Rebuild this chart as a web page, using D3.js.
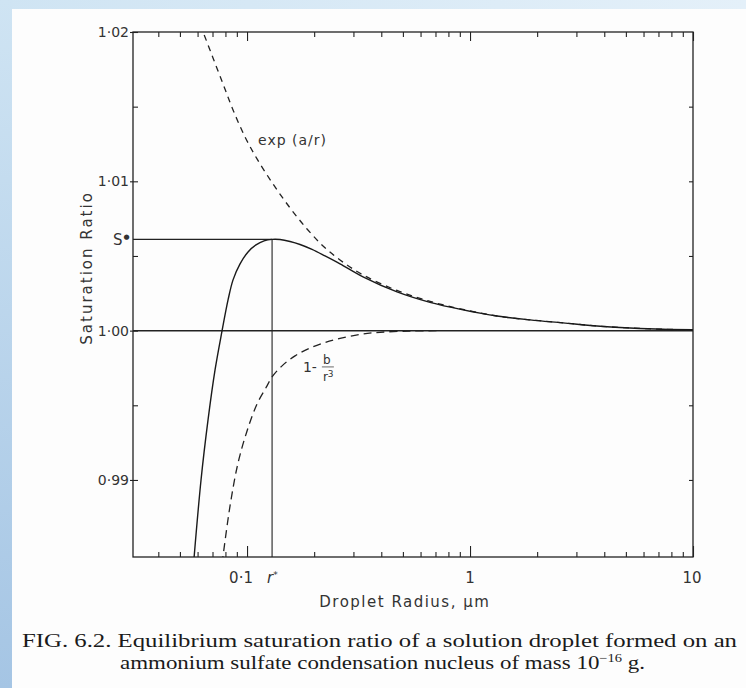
<!DOCTYPE html>
<html>
<head>
<meta charset="utf-8">
<script src="https://cdn.jsdelivr.net/npm/d3@7"></script>
<style>
body { margin: 0; background: #fff; }
svg { display: block; }
.lbl { font-family: "DejaVu Sans", sans-serif; fill: #333; }
.cap { font-family: "Liberation Serif", serif; fill: #1a1a1a; }
</style>
</head>
<body>
<div id="chart"></div>
<script>
var w = 746,
    h = 688,
    m = [32, 53, 131, 133]; // top right bottom left

var pw = w - m[1] - m[3],
    ph = h - m[0] - m[2];

// Köhler curve (solid)
var solidR = [0.0575, 0.06218, 0.06684, 0.07186, 0.07724, 0.08219, 0.08654, 0.09303, 0.10104, 0.10973, 0.1192, 0.12947,
              0.14062, 0.1559, 0.17286, 0.19564, 0.22376, 0.26122, 0.33131, 0.47063, 0.66163, 0.93023,
              1.3214, 1.8578, 2.6122, 3.711, 5.218, 7.336, 10];
var solidS = [0.9843, 0.99000, 0.99402, 0.99737, 0.99998, 1.00206, 1.00340, 1.00447, 1.00527, 1.00574, 1.00601, 1.00611,
              1.00610, 1.00597, 1.00577, 1.00544, 1.00500, 1.00447, 1.00360, 1.00259, 1.00189, 1.00139,
              1.00098, 1.00072, 1.00052, 1.00031, 1.00018, 1.00009, 1.00006];

// exp(a/r) dashed
var expR = [0.06154, 0.06348, 0.07038, 0.07804, 0.08654, 0.09796, 0.11088, 0.13081, 0.1559, 0.18582, 0.21918, 0.26122,
            0.33131, 0.47063, 0.66163, 0.93023, 1.3214, 1.8578, 2.6122, 3.711, 5.218, 7.336, 10];
var expS = [1.02047, 1.02000, 1.01826, 1.01652, 1.01478, 1.01297, 1.01150, 1.00982, 1.00822, 1.00681, 1.00567, 1.00473,
            1.00373, 1.00269, 1.00196, 1.00142, 1.00098, 1.00072, 1.00052, 1.00031, 1.00018, 1.00009, 1.00006];

// 1 - b/r^3 dashed
var solR = [0.07724, 0.08389, 0.09113, 0.1, 0.11088, 0.12293, 0.12947, 0.14355, 0.16417, 0.19163, 0.22376, 0.26122,
            0.32122, 0.3948, 0.53816, 0.73357];
var solS = [0.98438, 0.98826, 0.99114, 0.99328, 0.99509, 0.99630, 0.99690, 0.99764, 0.99831, 0.99884, 0.99921, 0.99948,
            0.99975, 0.99989, 0.99997, 1.0];

var rStar = 0.1295, sStar = 1.00611;

var xMajor = [0.1, 1, 10];
var xLabels = ["0·1", "1", "10"];
var yTicks = [0.99, 0.995, 1.00, 1.005, 1.01, 1.015, 1.02];
var yMajor = [0.99, 1.00, 1.01, 1.02];
var yLabels = ["0·99", "1·00", "1·01", "1·02"];

var svg = d3.select("#chart").append("svg:svg")
    .attr("width", w)
    .attr("height", h);

// scanned page edges
var defs = svg.append("defs");
var gl = defs.append("linearGradient").attr("id", "gl").attr("x1", 0).attr("x2", 0).attr("y1", 0).attr("y2", 1);
gl.append("stop").attr("offset", 0).attr("stop-color", "#cfe4f3");
gl.append("stop").attr("offset", 1).attr("stop-color", "#a5c5e4");
var gt = defs.append("linearGradient").attr("id", "gt").attr("x1", 0).attr("x2", 1).attr("y1", 0).attr("y2", 0);
gt.append("stop").attr("offset", 0).attr("stop-color", "#cfe4f3");
gt.append("stop").attr("offset", 1).attr("stop-color", "#e4f0f9");
svg.append("rect").attr("width", w).attr("height", h).attr("fill", "#fdfdfd");
svg.append("rect").attr("width", w).attr("height", 9).attr("fill", "url(#gt)");
svg.append("rect").attr("width", 12).attr("height", h).attr("fill", "url(#gl)");

defs.append("clipPath").attr("id", "clip")
  .append("rect").attr("width", pw).attr("height", ph);

var x = d3.scaleLog().domain([0.0308, 10]).range([0, pw]);
var y = d3.scaleLinear().domain([0.98484, 1.02]).range([ph, 0]);

var vis = svg.append("svg:g")
    .attr("transform", "translate(" + m[3] + "," + m[0] + ")");

var xTicks = x.ticks();
function isMajor(d) { return xMajor.some(function(v) { return Math.abs(v - d) < 1e-9; }); }

// bottom and top axes, ticks inward
var bx = vis.append("g").attr("transform", "translate(0," + ph + ")")
    .call(d3.axisBottom(x).tickValues(xTicks).tickSizeInner(-5).tickSizeOuter(0).tickFormat(""));
bx.selectAll(".tick line").attr("y2", function(d) { return isMajor(d) ? -11 : -5; });
var tx = vis.append("g")
    .call(d3.axisTop(x).tickValues(xTicks).tickSizeInner(-5).tickSizeOuter(0).tickFormat(""));
tx.selectAll(".tick line").attr("y2", function(d) { return isMajor(d) ? 9 : 5; });

// left and right axes
var ly = vis.append("g")
    .call(d3.axisLeft(y).tickValues(yTicks).tickSizeInner(-5).tickSizeOuter(0).tickFormat(""));
ly.selectAll(".tick line").attr("x1", function(d) { return yMajor.indexOf(d) >= 0 ? -3 : 0; });
vis.append("g").attr("transform", "translate(" + pw + ",0)")
    .call(d3.axisRight(y).tickValues([0.99, 0.995, 1.005, 1.01, 1.015]).tickSizeInner(-4).tickSizeOuter(0).tickFormat(""));

vis.selectAll(".domain").remove();
vis.selectAll(".tick line").attr("stroke", "#222").attr("stroke-width", 1.1);

vis.append("rect")
    .attr("width", pw).attr("height", ph)
    .attr("fill", "none").attr("stroke", "#222").attr("stroke-width", 1.3);

// reference lines
vis.append("line")
    .attr("x1", 0).attr("x2", pw).attr("y1", y(1)).attr("y2", y(1))
    .attr("stroke", "#222").attr("stroke-width", 1.5);
vis.append("line")
    .attr("x1", 0).attr("x2", x(rStar)).attr("y1", y(sStar)).attr("y2", y(sStar))
    .attr("stroke", "#222").attr("stroke-width", 1.3);
vis.append("line")
    .attr("x1", x(rStar)).attr("x2", x(rStar)).attr("y1", y(sStar)).attr("y2", ph)
    .attr("stroke", "#222").attr("stroke-width", 1.1);

var line = d3.line()
    .x(function(d) { return x(d[0]); })
    .y(function(d) { return y(d[1]); })
    .curve(d3.curveCatmullRom.alpha(0.5));

var curves = vis.append("g").attr("clip-path", "url(#clip)");
curves.append("path").datum(d3.zip(expR, expS))
    .attr("d", line).attr("fill", "none").attr("stroke", "#222")
    .attr("stroke-width", 1.3).attr("stroke-dasharray", "6,5");
curves.append("path").datum(d3.zip(solR, solS))
    .attr("d", line).attr("fill", "none").attr("stroke", "#222")
    .attr("stroke-width", 1.3).attr("stroke-dasharray", "8,5");
curves.append("path").datum(d3.zip(solidR, solidS))
    .attr("d", line).attr("fill", "none").attr("stroke", "#1a1a1a")
    .attr("stroke-width", 1.4);

// tick labels
vis.selectAll(".ylab").data(yMajor).enter().append("text")
    .attr("class", "lbl ylab")
    .attr("x", -4).attr("y", function(d) { return y(d); })
    .attr("dy", "0.36em").attr("text-anchor", "end")
    .style("font-size", "14px")
    .text(function(d, i) { return yLabels[i]; });

vis.selectAll(".xlab").data(xMajor).enter().append("text")
    .attr("class", "lbl xlab")
    .attr("x", function(d, i) { return x(d) + (i == 0 ? -6 : (i == 2 ? -1 : 0)); })
    .attr("y", ph + 26).attr("text-anchor", "middle")
    .style("font-size", "15px")
    .text(function(d, i) { return xLabels[i]; });

var rs = vis.append("text").attr("class", "lbl")
    .attr("x", x(rStar) - 5).attr("y", ph + 26)
    .style("font-size", "15px").style("font-style", "italic");
rs.append("tspan").text("r");
rs.append("tspan").attr("dy", -5).style("font-size", "9px").text("*");

var ss = vis.append("text").attr("class", "lbl")
    .attr("x", -20).attr("y", y(sStar) + 6)
    .style("font-size", "15px");
ss.append("tspan").text("S");
ss.append("tspan").attr("dx", 1).attr("dy", -6).style("font-size", "7px").text("●");

// axis titles
vis.append("text").attr("class", "lbl")
    .attr("transform", "translate(-41," + (y(1.0042)) + ") rotate(-90)")
    .attr("text-anchor", "middle")
    .style("font-size", "15px").style("letter-spacing", "2px")
    .text("Saturation Ratio");

vis.append("text").attr("class", "lbl")
    .attr("x", x(0.51)).attr("y", ph + 50)
    .attr("text-anchor", "middle")
    .style("font-size", "15px").style("letter-spacing", "1.5px")
    .text("Droplet Radius, µm");

// curve annotations
vis.append("text").attr("class", "lbl")
    .attr("x", x(0.112)).attr("y", y(1.0124))
    .style("font-size", "14px").style("letter-spacing", "1px")
    .text("exp (a/r)");

var fr = vis.append("g").attr("transform", "translate(" + x(0.178) + "," + y(0.99757) + ")");
fr.append("text").attr("class", "lbl").attr("x", 0).attr("y", 5)
    .style("font-size", "14px").text("1-");
fr.append("text").attr("class", "lbl").attr("x", 24).attr("y", -3)
    .attr("text-anchor", "middle").style("font-size", "12px").text("b");
fr.append("line").attr("x1", 19).attr("x2", 31).attr("y1", 0).attr("y2", 0)
    .attr("stroke", "#444").attr("stroke-width", 0.8);
var r3 = fr.append("text").attr("class", "lbl").attr("x", 20).attr("y", 14)
    .style("font-size", "12px");
r3.append("tspan").text("r");
r3.append("tspan").attr("dy", -4).style("font-size", "9px").text("3");

// caption
svg.append("text").attr("class", "cap")
    .attr("x", 22).attr("y", 647)
    .attr("textLength", 715).attr("lengthAdjust", "spacingAndGlyphs")
    .style("font-size", "19px")
    .text("FIG. 6.2. Equilibrium saturation ratio of a solution droplet formed on an");

var c2 = svg.append("text").attr("class", "cap")
    .attr("x", 120).attr("y", 669)
    .attr("textLength", 525).attr("lengthAdjust", "spacingAndGlyphs")
    .style("font-size", "19px");
c2.append("tspan").text("ammonium sulfate condensation nucleus of mass 10");
c2.append("tspan").attr("dy", -7).style("font-size", "12px").text("−16");
c2.append("tspan").attr("dy", 7).text(" g.");
</script>
</body>
</html>
